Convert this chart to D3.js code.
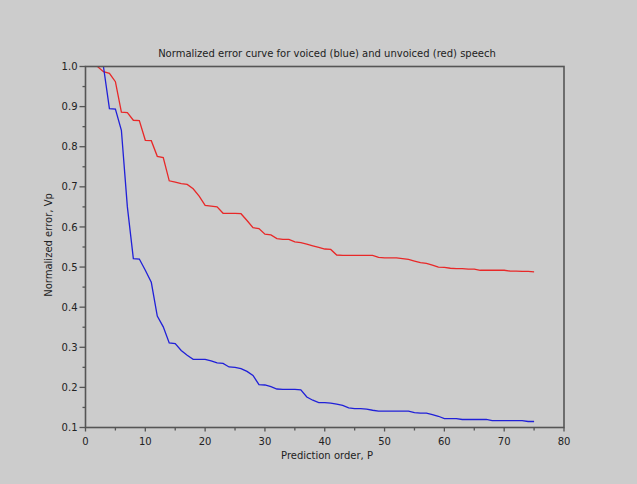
<!DOCTYPE html>
<html>
<head>
<meta charset="utf-8">
<script src="https://cdn.jsdelivr.net/npm/d3@7"></script>
<style>
  body { margin: 0; background: #cccccc; }
  text { font-family: 'DejaVu Sans', sans-serif; fill: #222; }
</style>
</head>
<body>
<div id="chart"></div>
<script>
// prediction orders for each curve
const orderVoiced = d3.range(3, 76)
const orderUnvoiced = d3.range(2, 76)

const voiced = [
  1.0, 0.895, 0.894, 0.841, 0.65, 0.521, 0.52, 0.492,
  0.462, 0.378, 0.351, 0.311, 0.309, 0.292, 0.28, 0.27, 0.27, 0.27,
  0.266, 0.261, 0.26, 0.251, 0.25, 0.247, 0.24, 0.23, 0.207, 0.206,
  0.202, 0.196, 0.195, 0.195, 0.195, 0.194, 0.176, 0.168, 0.162, 0.162,
  0.161, 0.158, 0.155, 0.149, 0.147, 0.147, 0.146, 0.143, 0.141, 0.141,
  0.141, 0.141, 0.141, 0.141, 0.137, 0.136, 0.136, 0.132, 0.128, 0.122,
  0.122, 0.122, 0.12, 0.12, 0.12, 0.12, 0.12, 0.117, 0.117, 0.117,
  0.117, 0.117, 0.117, 0.115, 0.115
]

const unvoiced = [
  1.0, 0.987, 0.983, 0.962, 0.886, 0.885, 0.866, 0.865, 0.816,
  0.815, 0.776, 0.773, 0.715, 0.712, 0.708, 0.706, 0.695, 0.677, 0.654,
  0.652, 0.65, 0.634, 0.634, 0.634, 0.633, 0.616, 0.598, 0.596, 0.582,
  0.58, 0.571, 0.569, 0.569, 0.563, 0.561, 0.557, 0.553, 0.549, 0.545,
  0.544, 0.53, 0.529, 0.529, 0.529, 0.529, 0.529, 0.529, 0.524, 0.523,
  0.523, 0.523, 0.521, 0.519, 0.515, 0.511, 0.509, 0.505, 0.5, 0.499,
  0.497, 0.496, 0.496, 0.495, 0.495, 0.492, 0.492, 0.492, 0.492, 0.492,
  0.49, 0.49, 0.489, 0.489, 0.488
]

const xTicks = [0, 10, 20, 30, 40, 50, 60, 70, 80]
const yTicks = [0.1, 0.2, 0.3, 0.4, 0.5, 0.6, 0.7, 0.8, 0.9, 1.0]

const totalWidth = 637
const totalHeight = 484
const margin = { top: 66.5, left: 85.5, right: 73, bottom: 56.5 }
const width = totalWidth - margin.left - margin.right
const height = totalHeight - margin.top - margin.bottom

const svg = d3
  .select('#chart')
  .append('svg')
  .attr('width', totalWidth)
  .attr('height', totalHeight)

svg
  .append('rect')
  .attr('width', totalWidth)
  .attr('height', totalHeight)
  .attr('fill', '#cccccc')

const g = svg
  .append('g')
  .attr('transform', `translate(${margin.left},${margin.top})`)

const x = d3.scaleLinear().domain([0, 80]).range([0, width])
const y = d3.scaleLinear().domain([0.1, 1.0]).range([height, 0])

function drawCurve(values, orders, color) {
  const line = d3
    .line()
    .x((d, i) => x(orders[i]))
    .y(d => y(d))

  g.append('path')
    .datum(values)
    .attr('d', line)
    .attr('fill', 'none')
    .attr('stroke', color)
    .attr('stroke-width', 1.3)
}

drawCurve(unvoiced, orderUnvoiced, '#e82828')
drawCurve(voiced, orderVoiced, '#2020d8')

// box
g.append('rect')
  .attr('width', width)
  .attr('height', height)
  .attr('fill', 'none')
  .attr('stroke', '#555')
  .attr('stroke-width', 1.6)

// x axis: major + minor ticks
g.selectAll('.x-minor')
  .data(d3.range(5, 80, 10))
  .enter()
  .append('line')
  .attr('x1', d => x(d))
  .attr('x2', d => x(d))
  .attr('y1', height)
  .attr('y2', height + 3)
  .attr('stroke', '#555')
  .attr('stroke-width', 1.3)

g.selectAll('.x-major')
  .data(xTicks)
  .enter()
  .append('line')
  .attr('x1', d => x(d))
  .attr('x2', d => x(d))
  .attr('y1', height)
  .attr('y2', height + 4)
  .attr('stroke', '#555')
  .attr('stroke-width', 1.3)

g.selectAll('.x-label')
  .data(xTicks)
  .enter()
  .append('text')
  .attr('x', d => x(d))
  .attr('y', height + 17)
  .attr('text-anchor', 'middle')
  .style('font-size', '10px')
  .text(d => d)

// y axis
g.selectAll('.y-minor')
  .data(d3.range(0.15, 1.0, 0.1))
  .enter()
  .append('line')
  .attr('x1', 0)
  .attr('x2', -3)
  .attr('y1', d => y(d))
  .attr('y2', d => y(d))
  .attr('stroke', '#555')
  .attr('stroke-width', 1.3)

g.selectAll('.y-major')
  .data(yTicks)
  .enter()
  .append('line')
  .attr('x1', 0)
  .attr('x2', -6)
  .attr('y1', d => y(d))
  .attr('y2', d => y(d))
  .attr('stroke', '#555')
  .attr('stroke-width', 1.3)

g.selectAll('.y-label')
  .data(yTicks)
  .enter()
  .append('text')
  .attr('x', -8)
  .attr('y', d => y(d))
  .attr('dy', '0.36em')
  .attr('text-anchor', 'end')
  .style('font-size', '10px')
  .text(d => d3.format('.1f')(d))

svg
  .append('text')
  .attr('x', 327)
  .attr('y', 56.5)
  .attr('text-anchor', 'middle')
  .style('font-size', '10px')
  .text('Normalized error curve for voiced (blue) and unvoiced (red) speech')

svg
  .append('text')
  .attr('x', 327)
  .attr('y', 459)
  .attr('text-anchor', 'middle')
  .style('font-size', '10px')
  .text('Prediction order, P')

svg
  .append('text')
  .attr('transform', 'translate(52,245) rotate(-90)')
  .attr('text-anchor', 'middle')
  .style('font-size', '10px')
  .text('Normalized error, Vp')
</script>
</body>
</html>
